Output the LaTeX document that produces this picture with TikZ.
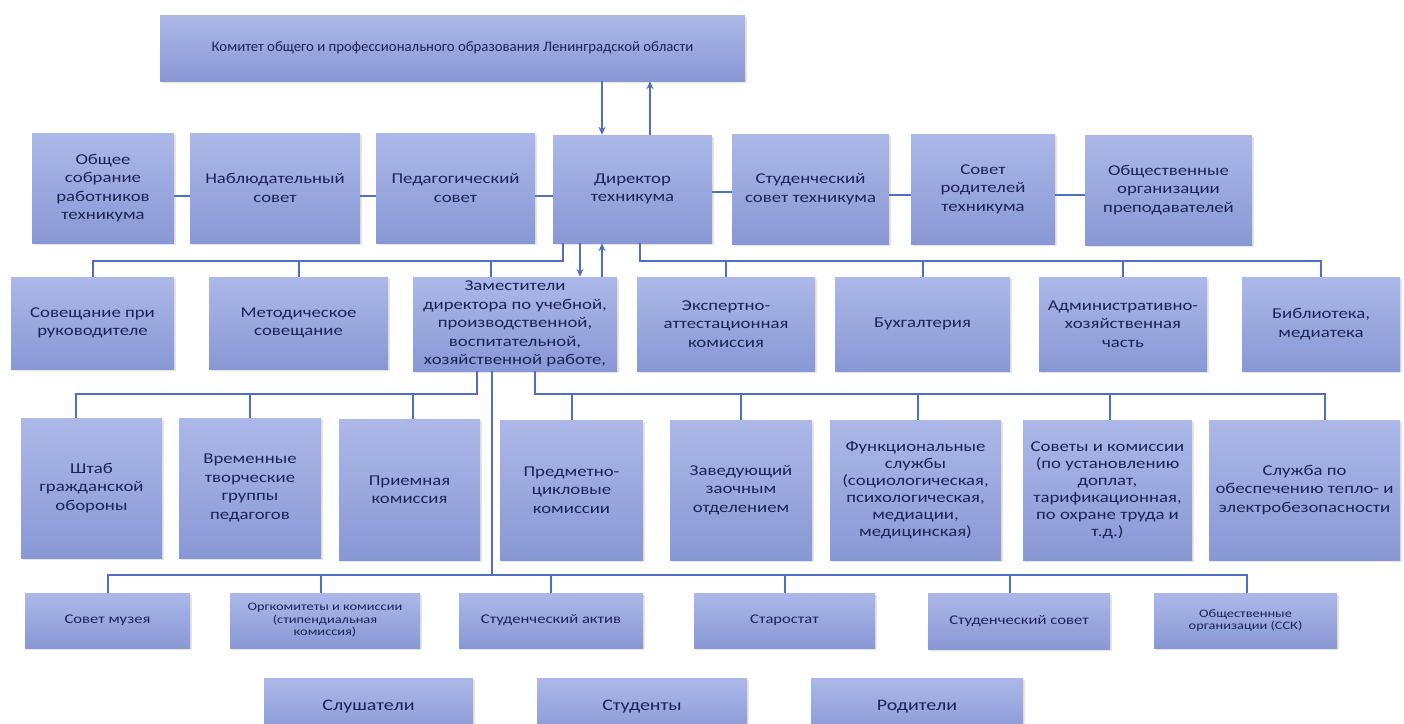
\documentclass[tikz,border=0pt]{standalone}
\usepackage{fontspec}
\setmainfont{Carlito}[FakeStretch=1.25]
\newfontfamily\plainfont{Carlito}[FakeStretch=1.02]
\usetikzlibrary{arrows.meta,shadows}
\definecolor{boxtop}{RGB}{172,184,232}
\definecolor{boxbot}{RGB}{136,152,212}
\definecolor{linec}{RGB}{80,110,196}
\definecolor{txt}{RGB}{26,36,88}
\tikzset{
  box/.style={rectangle, top color=boxtop, bottom color=boxbot, draw=none, align=center,
    text=txt, inner sep=2pt, font=\fontsize{15}{18.5}\selectfont,
    drop shadow={shadow xshift=1.5pt, shadow yshift=-1.5pt, opacity=0.2}},
  wh/.style 2 args={minimum width=#1pt, minimum height=#2pt},
  small/.style={font=\fontsize{13.3}{14}\selectfont},
  tiny/.style={font=\fontsize{11.5}{12.5}\selectfont},
  conn/.style={draw=linec, line width=2pt},
  arr/.style={conn, -{Stealth[length=8pt,width=7pt]}},
}
\begin{document}
\begin{tikzpicture}[x=1pt,y=-1pt]
\fill[white] (0,0) rectangle (1404,723);
\clip (0,0) rectangle (1404,723);
% top
\node[box, wh={585}{66}, font=\plainfont\fontsize{14.5}{17}\selectfont] (top) at (452.5,48) {Комитет общего и профессионального образования Ленинградской области};
% row 2
\node[box, wh={142}{110}] (g1) at (103,188) {Общее\\собрание\\работников\\техникума};
\node[box, wh={170}{110}] (g2) at (275,188) {Наблюдательный\\совет};
\node[box, wh={159}{110}] (g3) at (455.5,188) {Педагогический\\совет};
\node[box, wh={159}{108}] (dir) at (632.5,189) {Директор\\техникума};
\node[box, wh={157}{110}] (g5) at (810.5,189) {Студенческий\\совет техникума};
\node[box, wh={144}{110}] (g6) at (983,189) {Совет\\родителей\\техникума};
\node[box, wh={167}{110}] (g7) at (1168.5,190) {Общественные\\организации\\преподавателей};
% row 3
\node[box, wh={163}{92}] (r1) at (92.5,323) {Совещание при\\руководителе};
\node[box, wh={179}{92}] (r2) at (298.5,323) {Методическое\\совещание};
\node[box, wh={204}{94}] (dep) at (515,324) {Заместители\\директора по учебной,\\производственной,\\воспитательной,\\хозяйственной работе,};
\node[box, wh={178}{94}] (r4) at (726,324) {Экспертно-\\аттестационная\\комиссия};
\node[box, wh={175}{94}] (r5) at (922.5,324) {Бухгалтерия};
\node[box, wh={168}{94}] (r6) at (1123,324) {Административно-\\хозяйственная\\часть};
\node[box, wh={158}{94}] (r7) at (1321,324) {Библиотека,\\медиатека};
% row 4
\node[box, wh={141}{140}] (s1) at (91.5,488) {Штаб\\гражданской\\обороны};
\node[box, wh={142}{140}] (s2) at (250,488) {Временные\\творческие\\группы\\педагогов};
\node[box, wh={141}{141}] (s3) at (409.5,489.5) {Приемная\\комиссия};
\node[box, wh={143}{140}] (s4) at (571.5,490) {Предметно-\\цикловые\\комиссии};
\node[box, wh={142}{140}] (s5) at (741,490) {Заведующий\\заочным\\отделением};
\node[box, wh={171}{140}, font=\fontsize{15}{17}\selectfont] (s6) at (915.5,490) {Функциональные\\службы\\(социологическая,\\психологическая,\\медиации,\\медицинская)};
\node[box, wh={169}{140}, font=\fontsize{15}{17}\selectfont] (s7) at (1107.5,490) {Советы и комиссии\\(по установлению\\доплат,\\тарификационная,\\по охране труда и\\т.д.)};
\node[box, wh={191}{140}] (s8) at (1304.5,490) {Служба по\\обеспечению тепло- и\\электробезопасности};
% row 5
\node[box, wh={165}{55}, small] (t1) at (107.5,620.5) {Совет музея};
\node[box, wh={190}{55}, tiny] (t2) at (325,620.5) {Оргкомитеты и комиссии\\(стипендиальная\\комиссия)};
\node[box, wh={184}{55}, small] (t3) at (551,620.5) {Студенческий актив};
\node[box, wh={181}{55}, small] (t4) at (784.5,620.5) {Старостат};
\node[box, wh={182}{56}, small] (t5) at (1019,621) {Студенческий совет};
\node[box, wh={183}{55}, tiny] (t6) at (1245.5,620.5) {Общественные\\организации (ССК)};
% row 6
\node[box, wh={209}{58}, font=\fontsize{16}{18}\selectfont] (u1) at (368.5,707) {Слушатели};
\node[box, wh={210}{58}, font=\fontsize{16}{18}\selectfont] (u2) at (642,707) {Студенты};
\node[box, wh={212}{58}, font=\fontsize{16}{18}\selectfont] (u3) at (917,707) {Родители};
% top <-> director
\draw[arr] (top.south -| 602,0) -- (dir.north -| 602,0);
\draw[arr] (dir.north -| 650,0) -- (top.south -| 650,0);
% row 2 horizontal links
\draw[conn] (g1.east |- 0,196) -- (g2.west |- 0,196);
\draw[conn] (g2.east |- 0,196) -- (g3.west |- 0,196);
\draw[conn] (g3.east |- 0,196) -- (dir.west |- 0,196);
\draw[conn] (dir.east |- 0,192) -- (g5.west |- 0,192);
\draw[conn] (g5.east |- 0,195) -- (g6.west |- 0,195);
\draw[conn] (g6.east |- 0,195) -- (g7.west |- 0,195);
% director -> row 3
\draw[conn] (dir.south -| 563,0) -- (563,261) -| (r1.north);
\draw[conn] (r2.north |- 0,261) -- (r2.north);
\draw[conn] (491,261) -- (dep.north -| 491,0);
\draw[conn] (dir.south -| 640,0) -- (640,261) -| (r7.north);
\draw[conn] (r4.north |- 0,261) -- (r4.north);
\draw[conn] (r5.north |- 0,261) -- (r5.north);
\draw[conn] (r6.north |- 0,261) -- (r6.north);
\draw[arr] (dir.south -| 580,0) -- (dep.north -| 580,0);
\draw[arr] (dep.north -| 602,0) -- (dir.south -| 602,0);
% deputies -> row 4
\draw[conn] (dep.south -| 477,0) -- (477,394) -| (s1.north -| 76,0);
\draw[conn] (s2.north |- 0,394) -- (s2.north);
\draw[conn] (413,394) -- (s3.north -| 413,0);
\draw[conn] (dep.south -| 535,0) -- (535,394) -| (s8.north -| 1325,0);
\draw[conn] (s4.north |- 0,394) -- (s4.north);
\draw[conn] (s5.north |- 0,394) -- (s5.north);
\draw[conn] (918,394) -- (s6.north -| 918,0);
\draw[conn] (1110,394) -- (s7.north -| 1110,0);
% deputies -> row 5
\draw[conn] (dep.south -| 492,0) -- (492,575);
\draw[conn] (t1.north -| 108,0) |- (1247,575) -- (t6.north -| 1247,0);
\draw[conn] (321,575) -- (t2.north -| 321,0);
\draw[conn] (t3.north |- 0,575) -- (t3.north);
\draw[conn] (t4.north |- 0,575) -- (t4.north);
\draw[conn] (1010,575) -- (t5.north -| 1010,0);
\end{tikzpicture}
\end{document}
